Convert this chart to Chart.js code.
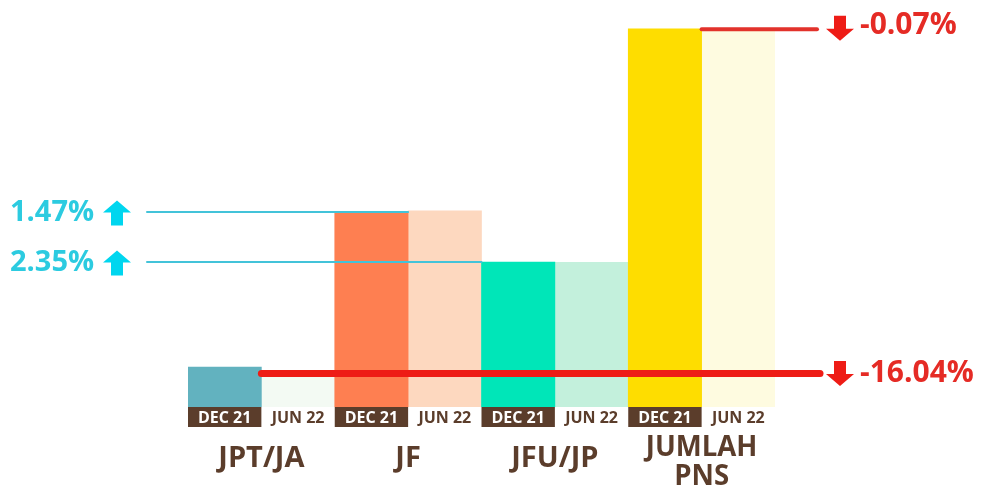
<!DOCTYPE html>
<html>
<head>
<meta charset="utf-8">
<script src="https://cdn.jsdelivr.net/npm/chart.js@4.4.0/dist/chart.umd.min.js"></script>
<style>
  body { margin: 0; background: #fff; }
  #wrap { width: 982px; height: 487px; position: relative; }
</style>
</head>
<body>
<div id="wrap"><canvas id="myChart"></canvas></div>
<script>
// categories
const groups = ['JPT/JA', 'JF', 'JFU/JP', ['JUMLAH', 'PNS']];
const periods = ['DEC 21', 'JUN 22'];
// number of PNS
const dec21 = [422800, 2061000, 1532600, 3995634];
const jun22 = [355000, 2072000, 1530000, 3992766];
// change dec 21 -> jun 22
const changes = ['-16.04%', '1.47%', '2.35%', '-0.07%'];

const decColors = ['#62b2bf', '#fe7f51', '#00e6b8', '#fedd00'];
const junColors = ['#f3faf3', '#fdd8bf', '#c3f0dc', '#fefbe0'];

const BROWN = '#5b3d2b';
const CYAN_LINE = '#43c3d9';
const CYAN_TXT = '#2ccbe0';
const CYAN_ARROW = '#00d6ef';
const RED = '#ee1c16';
const RED_TXT = '#e52b25';

function arrow(ctx, cx, cy, up, color) {
    // block arrow, 28 wide, 25 tall
    const w = 28, h = 25, sw = 12;
    const dir = up ? -1 : 1;
    const tip = cy + dir * h / 2;
    const neck = cy + dir * 0.5;
    const tail = cy - dir * h / 2;
    ctx.fillStyle = color;
    ctx.beginPath();
    ctx.moveTo(cx, tip);
    ctx.lineTo(cx + w / 2, neck);
    ctx.lineTo(cx + sw / 2, neck);
    ctx.lineTo(cx + sw / 2, tail);
    ctx.lineTo(cx - sw / 2, tail);
    ctx.lineTo(cx - sw / 2, neck);
    ctx.lineTo(cx - w / 2, neck);
    ctx.closePath();
    ctx.fill();
}

function hline(ctx, x1, x2, y, color, width) {
    ctx.strokeStyle = color;
    ctx.lineWidth = width;
    ctx.lineCap = 'round';
    ctx.beginPath();
    ctx.moveTo(x1, y);
    ctx.lineTo(x2, y);
    ctx.stroke();
}

// narrower bold text, the source font is a condensed one
function squeezed(ctx, text, x, y, sx) {
    ctx.save();
    ctx.translate(x, y);
    ctx.scale(sx, 1);
    ctx.fillText(text, 0, 0);
    ctx.restore();
}

const decor = {
    id: 'decor',
    afterDatasetsDraw(chart) {
        const ctx = chart.ctx;
        const ys = chart.scales.y;
        const xs = chart.scales.x;
        const base = chart.chartArea.bottom;
        const metaDec = chart.getDatasetMeta(0).data;
        const metaJun = chart.getDatasetMeta(1).data;
        ctx.save();

        // period boxes under bars
        ctx.textAlign = 'center';
        ctx.textBaseline = 'middle';
        ctx.font = 'bold 16px "Open Sans"';
        [metaDec, metaJun].forEach((bars, d) => {
            bars.forEach((b) => {
                if (d === 0) {
                    ctx.fillStyle = BROWN;
                    ctx.fillRect(b.x - b.width / 2, base, b.width, 20);
                    ctx.fillStyle = '#ffffff';
                } else {
                    ctx.fillStyle = BROWN;
                }
                ctx.fillText(periods[d], b.x, base + 11);
            });
        });

        // category labels
        ctx.font = 'bold 29px "Open Sans"';
        ctx.fillStyle = BROWN;
        groups.forEach((g, i) => {
            const x = xs.getPixelForValue(i);
            if (Array.isArray(g)) {
                squeezed(ctx, g[0], x, base + 41, 0.95);
                squeezed(ctx, g[1], x, base + 70, 0.95);
            } else {
                squeezed(ctx, g, x, base + 52, 1);
            }
        });

        // cyan lines (JF, JFU/JP)
        const yJF = ys.getPixelForValue(dec21[1]);
        const yJFU = ys.getPixelForValue(dec21[2]);
        hline(ctx, 147, metaDec[1].x + metaDec[1].width / 2, yJF, CYAN_LINE, 2);
        hline(ctx, 147, metaDec[2].x - metaDec[2].width / 2, yJFU, CYAN_LINE, 2);

        ctx.font = 'bold 29px "Open Sans"';
        ctx.textAlign = 'left';
        ctx.fillStyle = CYAN_TXT;
        ctx.fillText(changes[1], 10, yJF + 1);
        ctx.fillText(changes[2], 10, yJFU + 1);
        arrow(ctx, 117, yJF + 1, true, CYAN_ARROW);
        arrow(ctx, 117, yJFU + 1, true, CYAN_ARROW);

        // red lines (JPT/JA, JUMLAH PNS)
        const yJPT = ys.getPixelForValue(jun22[0]);
        const yPNS = ys.getPixelForValue(jun22[3]);
        hline(ctx, metaDec[0].x + metaDec[0].width / 2, 820, yJPT, RED, 7);
        hline(ctx, metaDec[3].x + metaDec[3].width / 2, 817, yPNS, '#e2322b', 4);
        arrow(ctx, 840, yJPT, false, RED);
        arrow(ctx, 840, yPNS - 1, false, RED);

        ctx.font = 'bold 30px "Open Sans"';
        ctx.fillStyle = RED_TXT;
        ctx.fillText(changes[0], 860, yJPT);
        ctx.fillText(changes[3], 860, yPNS - 4);

        ctx.restore();
    }
};

const data = {
    labels: groups,
    datasets: [
        {
            label: periods[0],
            data: dec21,
            backgroundColor: decColors,
            borderWidth: 0,
            categoryPercentage: 1,
            barPercentage: 1
        },
        {
            label: periods[1],
            data: jun22,
            backgroundColor: junColors,
            borderWidth: 0,
            categoryPercentage: 1,
            barPercentage: 1
        }
    ]
};

const options = {
    responsive: true,
    maintainAspectRatio: false,
    animation: false,
    layout: {
        padding: { left: 188, right: 207, top: 19, bottom: 80 }
    },
    scales: {
        x: { display: false },
        y: { display: false, min: 0, max: 4100000 }
    },
    plugins: {
        legend: { display: false },
        tooltip: { enabled: false }
    }
};

new Chart(document.getElementById('myChart'), {
    type: 'bar',
    data,
    options,
    plugins: [decor]
});
</script>
</body>
</html>
